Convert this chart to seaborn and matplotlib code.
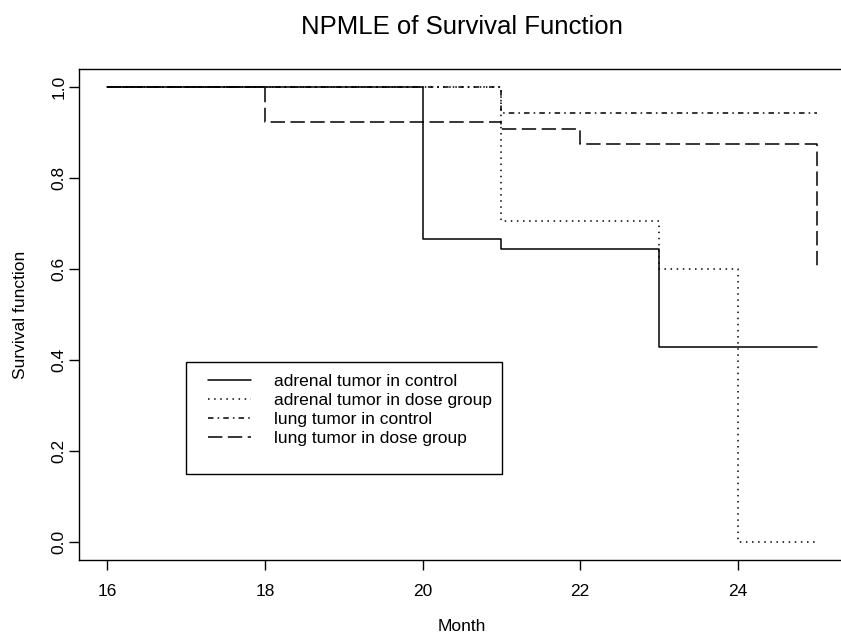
import matplotlib
matplotlib.use('Agg')
import matplotlib.pyplot as plt
import seaborn as sns
from matplotlib.patches import Rectangle

# NPMLE step values (month, survival)
adrenal_ctrl_month = [16, 20, 21, 23, 25]
adrenal_ctrl_surv = [1.0, 0.667, 0.643, 0.429, 0.429]

adrenal_dose_month = [16, 21, 23, 24, 25]
adrenal_dose_surv = [1.0, 0.706, 0.6, 0.0, 0.0]

lung_ctrl_month = [16, 21, 25]
lung_ctrl_surv = [1.0, 0.944, 0.944]

lung_dose_month = [16, 18, 21, 22, 25]
lung_dose_surv = [1.0, 0.923, 0.909, 0.875, 0.6]

labels = ['adrenal tumor in control', 'adrenal tumor in dose group',
          'lung tumor in control', 'lung tumor in dose group']
x_ticks = [16, 18, 20, 22, 24]
y_ticks = [0.0, 0.2, 0.4, 0.6, 0.8, 1.0]

sns.set_style('ticks')
plt.rcParams['font.family'] = ['Liberation Sans', 'DejaVu Sans']
plt.rcParams['text.color'] = 'black'
plt.rcParams['axes.labelcolor'] = 'black'
plt.rcParams['xtick.color'] = 'black'
plt.rcParams['ytick.color'] = 'black'

fig = plt.figure(figsize=(8.41, 6.39), dpi=100)
ax = fig.add_axes([79 / 841, 79 / 639, 766 / 841, 491 / 639])

styles = ['-', (0, (1, 3)), (0, (3.6, 2.7, 1, 2.7)), (0, (9.4, 3.6))]
series = [(adrenal_ctrl_month, adrenal_ctrl_surv),
          (adrenal_dose_month, adrenal_dose_surv),
          (lung_ctrl_month, lung_ctrl_surv),
          (lung_dose_month, lung_dose_surv)]

for (m, s), lab, ls in zip(series, labels, styles):
    sns.lineplot(x=m, y=s, ax=ax, drawstyle='steps-post', estimator=None,
                 sort=False, color='black', linewidth=1.1, linestyle=ls,
                 label=lab)

ax.set_xlim(15.64, 25.36)
ax.set_ylim(-0.04, 1.04)
ax.set_xticks(x_ticks)
ax.set_yticks(y_ticks)
ax.set_yticklabels([f'{v:.1f}' for v in y_ticks], rotation=90, va='center')
ax.tick_params(direction='out', length=7, width=1, labelsize=12.5,
               colors='black')
ax.tick_params(axis='x', pad=10)
ax.tick_params(axis='y', pad=2)
for sp in ax.spines.values():
    sp.set_color('black')
    sp.set_linewidth(1)

ax.set_xlabel('Month', fontsize=12.5, labelpad=15)
ax.set_ylabel('Survival function', fontsize=12.5, labelpad=17)
ax.set_title('NPMLE of Survival Function', fontsize=18.5, pad=25)

# legend box like R
ax.add_patch(Rectangle((0.1397, 0.175), 0.4125, 0.228, transform=ax.transAxes,
                       fill=False, edgecolor='black', linewidth=1, zorder=3))
ax.legend(loc='upper left', bbox_to_anchor=(0.168, 0.379), frameon=False,
          fontsize=12.5, handlelength=2.5, handletextpad=1.3, borderpad=0,
          labelspacing=0.22, borderaxespad=0)

fig.savefig('out.png', dpi=100)
